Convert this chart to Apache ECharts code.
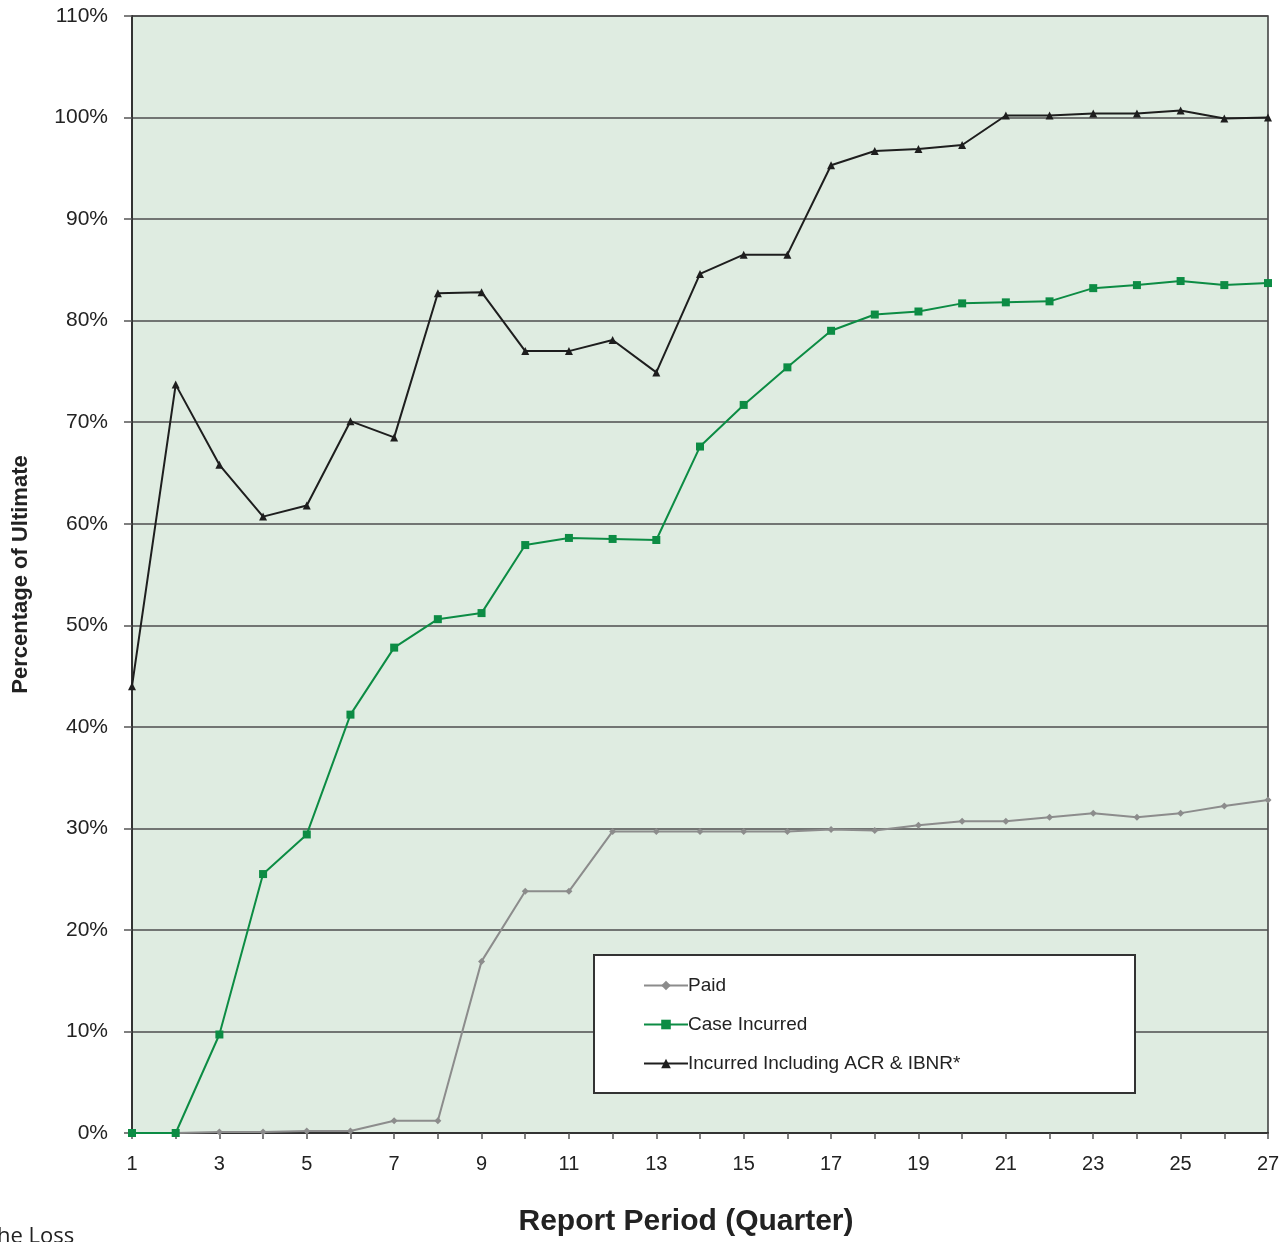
<!DOCTYPE html>
<html>
<head>
<meta charset="utf-8">
<script src="https://cdn.jsdelivr.net/npm/echarts@6/dist/echarts.min.js"></script>
<style>html,body{margin:0;padding:0;background:#fff;}#c{width:1286px;height:1242px;}</style>
</head>
<body>
<div id="c"></div>
<script>
const periods = [1,2,3,4,5,6,7,8,9,10,11,12,13,14,15,16,17,18,19,20,21,22,23,24,25,26,27];
const paid = [0,0,0.1,0.1,0.2,0.2,1.2,1.2,16.9,23.8,23.8,29.7,29.7,29.7,29.7,29.7,29.9,29.8,30.3,30.7,30.7,31.1,31.5,31.1,31.5,32.2,32.8];
const caseIncurred = [0,0,9.7,25.5,29.4,41.2,47.8,50.6,51.2,57.9,58.6,58.5,58.4,67.6,71.7,75.4,79.0,80.6,80.9,81.7,81.8,81.9,83.2,83.5,83.9,83.5,83.7];
const incurredAll = [44.0,73.7,65.8,60.7,61.8,70.1,68.5,82.7,82.8,77.0,77.0,78.1,74.9,84.6,86.5,86.5,95.3,96.7,96.9,97.3,100.2,100.2,100.4,100.4,100.7,99.9,100.0];
const seriesNames = ['Paid','Case Incurred','Incurred Including ACR & IBNR*'];
const yTitle = 'Percentage of Ultimate';
const xTitle = 'Report Period (Quarter)';

const pairs = arr => arr.map((v,i)=>[periods[i], v]);
const font = 'Liberation Sans, Arial, sans-serif';

const chart = echarts.init(document.getElementById('c'), null, {renderer:'canvas'});
chart.setOption({
  animation:false,
  backgroundColor:'#ffffff',
  grid:{left:132, right:18, top:16, bottom:109, show:true, containLabel:false, outerBoundsMode:'none',
        backgroundColor:'#dfece1', borderColor:'#3a3a3a', borderWidth:1.5},
  xAxis:{
    type:'value', min:1, max:27, interval:1,
    axisLine:{lineStyle:{color:'#333', width:2}},
    axisTick:{show:true, length:6, lineStyle:{color:'#555', width:1.5}},
    axisLabel:{formatter:v => (v%2===1 ? String(v) : ''), color:'#222', fontSize:20, fontFamily:font, margin:21, showMinLabel:true, showMaxLabel:true},
    splitLine:{show:false}
  },
  yAxis:{
    type:'value', min:0, max:110, interval:10,
    axisLine:{show:true, lineStyle:{color:'#333', width:2}},
    axisTick:{show:true, length:8, lineStyle:{color:'#555', width:1.5}},
    axisLabel:{formatter:'{value}%', color:'#222', fontSize:21, fontFamily:font, margin:24},
    splitLine:{show:true, lineStyle:{color:'#4e4e4e', width:1.5}},
    name:yTitle, nameLocation:'middle', nameGap:100, nameRotate:90,
    nameTextStyle:{fontSize:22, fontWeight:'bold', color:'#222', fontFamily:font}
  },
  legend:{
    orient:'vertical', left:638, top:971, itemWidth:44, itemHeight:12, itemGap:20,
    data:seriesNames, z:110,
    textStyle:{fontSize:19, color:'#222', fontFamily:font, padding:[0,0,0,-5]},
    backgroundColor:'transparent'
  },
  graphic:[
    {type:'rect', z:100, shape:{x:594, y:955, width:541, height:138}, style:{fill:'#ffffff', stroke:'#333', lineWidth:2}},
    {type:'text', z:100, x:686, y:1222, style:{text:xTitle, font:'bold 30px "Liberation Sans", Arial, sans-serif', fill:'#222', textAlign:'center', textVerticalAlign:'middle'}},
    {type:'text', z:100, left:-3, top:1226, style:{text:'he Loss', font:'22px "Open Sans", sans-serif', fill:'#222'}}
  ],
  series:[
    {name:seriesNames[0], type:'line', data:pairs(paid), symbol:'diamond', symbolSize:7,
     lineStyle:{color:'#8c8c8c', width:2}, itemStyle:{color:'#8c8c8c'}, z:2},
    {name:seriesNames[1], type:'line', data:pairs(caseIncurred), symbol:'rect', symbolSize:8,
     lineStyle:{color:'#0c8c44', width:2}, itemStyle:{color:'#0c8c44'}, z:3},
    {name:seriesNames[2], type:'line', data:pairs(incurredAll), symbol:'triangle', symbolSize:8,
     lineStyle:{color:'#1e1e1e', width:2}, itemStyle:{color:'#1e1e1e'}, z:4}
  ]
});
</script>
</body>
</html>
